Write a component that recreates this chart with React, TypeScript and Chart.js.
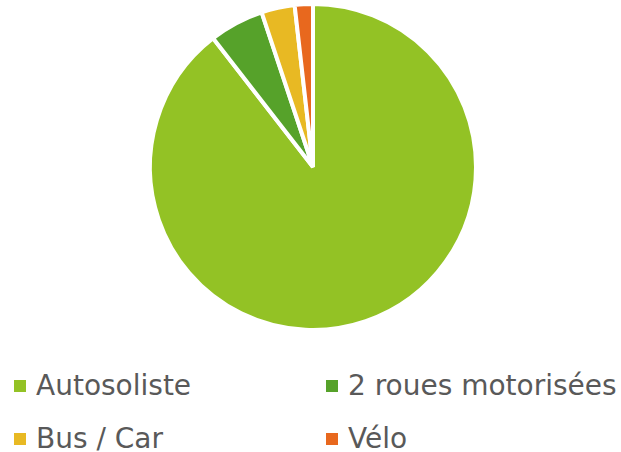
import React, { useEffect, useRef } from "react";
import { Chart, registerables } from "chart.js";

Chart.register(...registerables);

const categories = ["Autosoliste", "2 roues motorisées", "Bus / Car", "Vélo"];
const values = [89.5, 5.4, 3.3, 1.8];
const colors = ["#93C225", "#56A22A", "#E8B923", "#E8681E"];

export default function App() {
  const ref = useRef<HTMLCanvasElement | null>(null);
  useEffect(() => {
    document.body.style.margin = "0";
    const chart = new Chart(ref.current!, {
      type: "pie",
      data: {
        labels: categories,
        datasets: [
          {
            data: values,
            backgroundColor: colors,
            borderColor: "#ffffff",
            borderWidth: 4,
          },
        ],
      },
      options: {
        animation: false,
        responsive: false,
        radius: 163,
        layout: { padding: 0 },
        plugins: { legend: { display: false }, tooltip: { enabled: false } },
      },
    });
    return () => chart.destroy();
  }, []);

  const legendItem = (i: number, left: number, top: number) => (
    <div
      key={i}
      style={{
        position: "absolute",
        left,
        top,
        display: "flex",
        alignItems: "center",
        height: 40,
      }}
    >
      <span
        style={{
          display: "inline-block",
          width: 12,
          height: 12,
          background: colors[i],
          marginRight: 10,
        }}
      />
      <span
        style={{
          fontFamily: "'DejaVu Sans', sans-serif",
          fontSize: 28,
          color: "#595959",
          whiteSpace: "nowrap",
          lineHeight: "40px",
        }}
      >
        {categories[i]}
      </span>
    </div>
  );

  return (
    <div style={{ position: "relative", width: 621, height: 452, background: "#fff", overflow: "hidden" }}>
      <canvas ref={ref} width={626} height={334} style={{ position: "absolute", left: 0, top: 0, width: 626, height: 334 }} />
      {legendItem(0, 14, 366)}
      {legendItem(1, 326, 366)}
      {legendItem(2, 14, 419)}
      {legendItem(3, 326, 419)}
    </div>
  );
}
